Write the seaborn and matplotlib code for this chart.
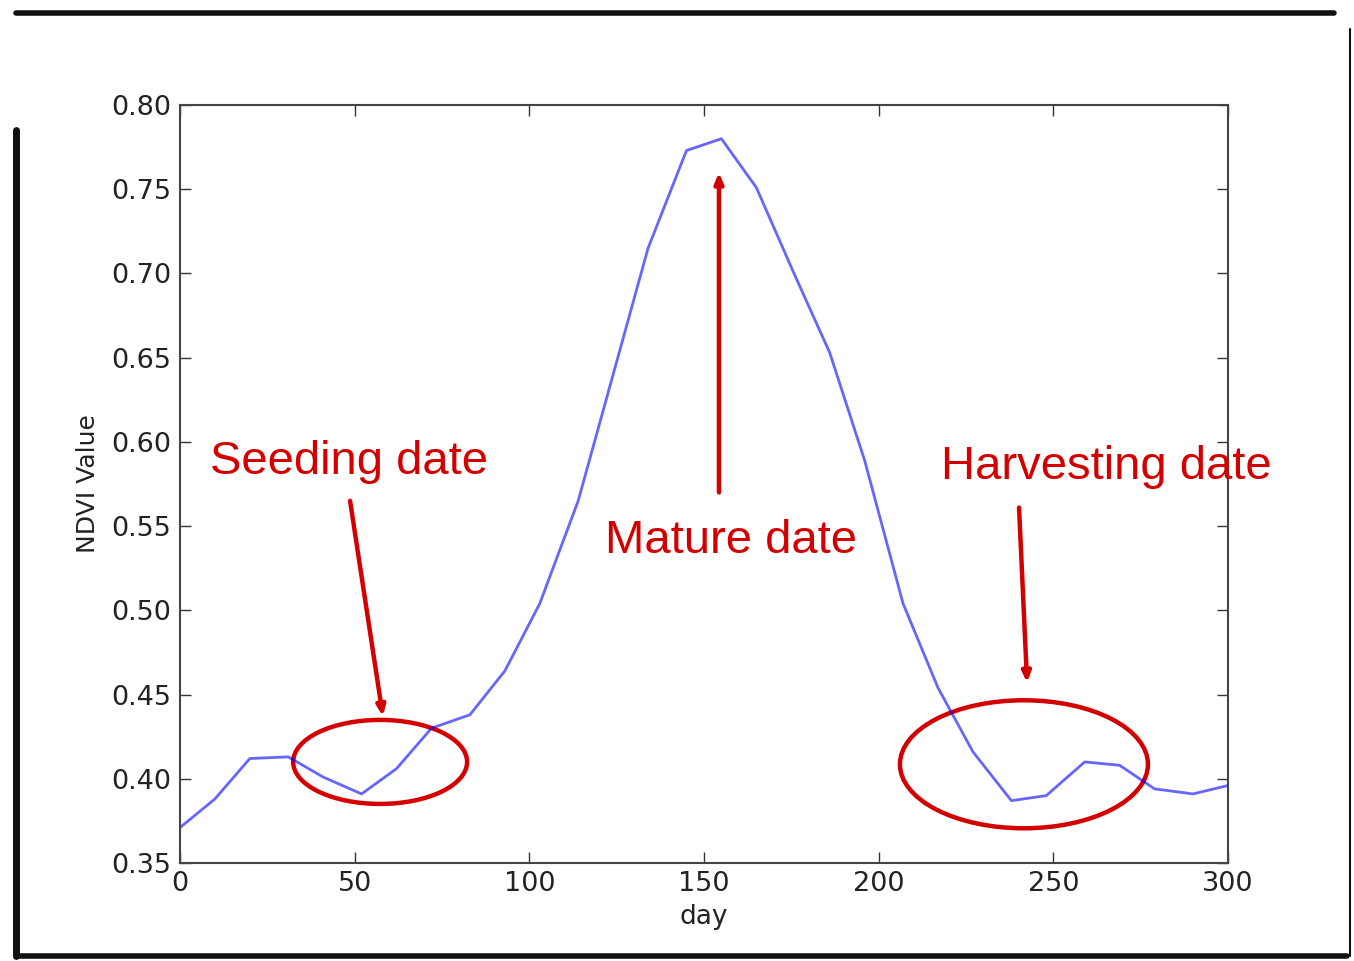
import matplotlib
matplotlib.use("Agg")
import matplotlib.pyplot as plt
import seaborn as sns
import pandas as pd
from matplotlib.patches import Ellipse
from matplotlib.lines import Line2D
from matplotlib.ticker import FormatStrFormatter

# NDVI time series
days = [0, 10, 20, 31, 41, 52, 62, 72, 83, 93, 103, 114, 124, 134, 145,
        155, 165, 176, 186, 196, 207, 217, 227, 238, 248, 259, 269, 279, 290, 300]
ndvi = [0.371, 0.388, 0.412, 0.413, 0.401, 0.391, 0.406, 0.430, 0.438, 0.464,
        0.504, 0.565, 0.640, 0.715, 0.773, 0.780, 0.751, 0.699, 0.653, 0.589,
        0.504, 0.454, 0.416, 0.387, 0.390, 0.410, 0.408, 0.394, 0.391, 0.396]

x_ticks = [0, 50, 100, 150, 200, 250, 300]
y_ticks = [0.35, 0.40, 0.45, 0.50, 0.55, 0.60, 0.65, 0.70, 0.75, 0.80]

df = pd.DataFrame({"day": days, "ndvi": ndvi})

sns.set_style("ticks")
plt.rcParams["font.family"] = ["DejaVu Sans"]

fig = plt.figure(figsize=(13.54, 9.61), dpi=100)
ax = fig.add_axes([0.1329, 0.102, 0.7740, 0.7887])

sns.lineplot(data=df, x="day", y="ndvi", ax=ax, color="blue", alpha=0.6, lw=2)

ax.set_xlim(0, 300)
ax.set_ylim(0.35, 0.80)
ax.set_xticks(x_ticks)
ax.set_yticks(y_ticks)
ax.yaxis.set_major_formatter(FormatStrFormatter("%.2f"))
ax.tick_params(direction="in", top=True, right=True, length=8, width=1,
               labelsize=19.5, colors="#333333", labelcolor="#222222", pad=6)
for s in ax.spines.values():
    s.set_visible(True)
    s.set_color("#444444")
    s.set_linewidth(1.5)
ax.set_xlabel("day", fontsize=19, color="#222222", labelpad=5)
ax.set_ylabel("NDVI Value", fontsize=18, color="#222222", labelpad=8)

red = "#d40000"
afont = dict(fontsize=34, color=red, family=["Liberation Sans", "DejaVu Sans"],
             va="center", ha="left")
ax.text(8.6, 0.588, "Seeding date", clip_on=False, **afont)
ax.text(121.7, 0.541, "Mature date", clip_on=False, **afont)
ax.text(217.9, 0.585, "Harvesting date", clip_on=False, **afont)

arrow = dict(arrowstyle="-|>,head_length=0.6,head_width=0.25", color=red, lw=3.2,
             shrinkA=0, shrinkB=0)
ax.annotate("", xy=(58.1, 0.437), xytext=(48.7, 0.565), arrowprops=arrow)
ax.annotate("", xy=(154.3, 0.760), xytext=(154.3, 0.570), arrowprops=arrow)
ax.annotate("", xy=(242.5, 0.457), xytext=(240.2, 0.561), arrowprops=arrow)

ax.add_patch(Ellipse((57.3, 0.410), 49.8, 0.0499, fill=False, ec=red, lw=3.2, clip_on=False))
ax.add_patch(Ellipse((241.6, 0.4086), 71.0, 0.076, fill=False, ec=red, lw=3.2, clip_on=False))

# scanned-looking frame around the picture
fig.add_artist(Line2D([0.012, 0.985], [0.9865, 0.9865], color="#111111", lw=4))
fig.add_artist(Line2D([0.012, 0.012], [0.005, 0.865], color="#111111", lw=5))
fig.add_artist(Line2D([0.012, 0.995], [0.005, 0.005], color="#111111", lw=4))
fig.add_artist(Line2D([0.997, 0.997], [0.005, 0.97], color="#111111", lw=1.5))

fig.savefig("out.png", dpi=100)
